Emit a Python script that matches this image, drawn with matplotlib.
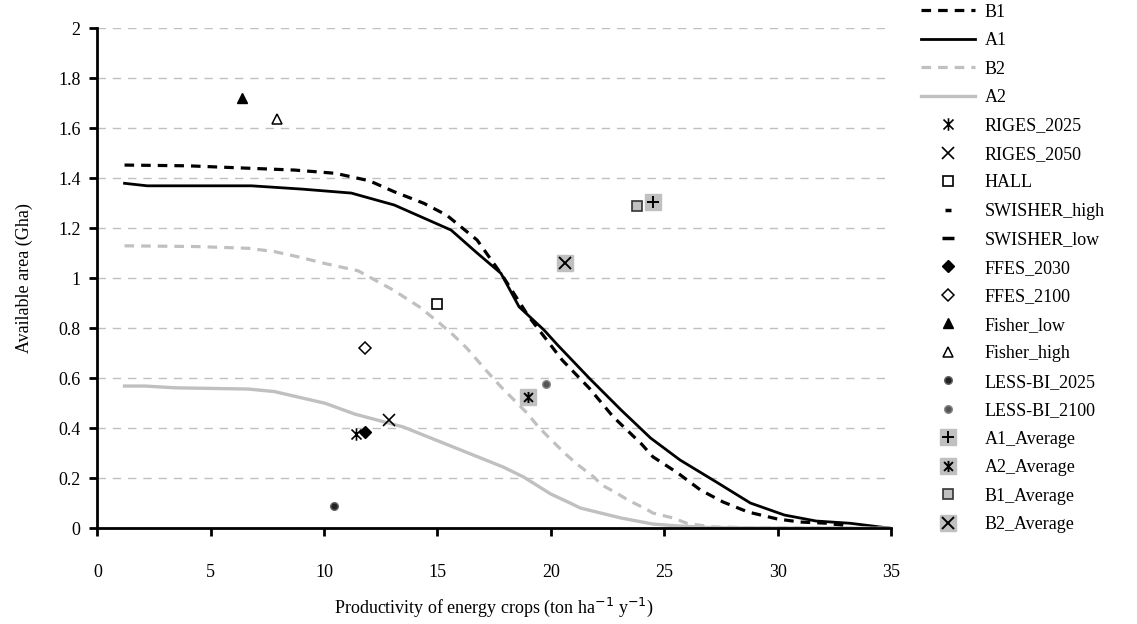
import matplotlib
matplotlib.use("Agg")
import matplotlib.pyplot as plt
from matplotlib.lines import Line2D
from matplotlib.path import Path

plt.rcParams["font.family"] = ["Liberation Serif", "DejaVu Serif"]

# scenario curves (productivity ton/ha/y vs available area Gha)
b1_x = [1.2, 4.0, 8.7, 10.5, 12.0, 13.1, 14.4, 15.4, 16.75, 17.9, 19.0, 20.5, 21.7,
        22.75, 24.0, 24.5, 25.6, 26.6, 27.6, 28.7, 30.0, 31.0, 32.2, 33.0]
b1_y = [1.453, 1.45, 1.433, 1.42, 1.39, 1.346, 1.30, 1.253, 1.153, 1.006, 0.85, 0.673, 0.56,
        0.446, 0.337, 0.286, 0.221, 0.153, 0.105, 0.065, 0.037, 0.025, 0.02, 0.01]

a1_x = [1.2, 2.2, 6.8, 9.0, 11.2, 13.1, 15.6, 16.7, 17.8, 18.6, 19.7, 20.3, 21.7,
        23.1, 24.4, 25.7, 27.3, 28.8, 30.3, 31.7, 33.2, 35.0]
a1_y = [1.38, 1.37, 1.37, 1.357, 1.341, 1.293, 1.193, 1.105, 1.02, 0.886, 0.793, 0.733, 0.60,
        0.473, 0.361, 0.273, 0.185, 0.101, 0.053, 0.029, 0.02, 0.0]

b2_x = [1.2, 4.4, 6.65, 7.8, 8.85, 10.0, 11.5, 13.05, 14.2, 15.1, 15.7, 16.3, 17.2, 17.8,
        18.95, 19.45, 20.1, 20.7, 21.15, 21.9, 22.25, 22.9, 23.4, 24.2, 24.5, 25.4,
        26.0, 27.0, 29.0, 35.0]
b2_y = [1.13, 1.127, 1.12, 1.107, 1.086, 1.06, 1.03, 0.953, 0.886, 0.82, 0.773, 0.72, 0.626,
        0.566, 0.461, 0.406, 0.346, 0.293, 0.257, 0.205, 0.173, 0.141, 0.113, 0.077, 0.061,
        0.041, 0.02, 0.006, 0.002, 0.0]

a2_x = [1.2, 2.1, 3.4, 6.65, 7.8, 10.05, 11.35, 13.5, 15.7, 17.9, 18.8, 20.0, 20.85,
        21.3, 23.1, 24.5, 25.5, 27.0, 30.0, 35.0]
a2_y = [0.569, 0.569, 0.562, 0.557, 0.547, 0.50, 0.457, 0.405, 0.325, 0.245, 0.205, 0.137,
        0.101, 0.081, 0.041, 0.017, 0.01, 0.003, 0.001, 0.0]

# literature estimates
riges_2025 = (11.4, 0.376)
riges_2050 = (12.87, 0.433)
hall = (14.97, 0.897)
ffes_2030 = (11.8, 0.386)
ffes_2100 = (11.8, 0.722)
fisher_low = (6.37, 1.722)
fisher_high = (7.94, 1.636)
less_bi_2025 = (10.45, 0.089)
less_bi_2100 = (19.8, 0.577)
a1_avg = (24.5, 1.307)
a2_avg = (19.0, 0.526)
b1_avg = (23.8, 1.289)
b2_avg = (20.63, 1.062)

GRAY = "#c0c0c0"

# excel style asterisk: vertical bar plus a cross
star = Path([(0, -1), (0, 1), (-0.8, -0.8), (0.8, 0.8), (-0.8, 0.8), (0.8, -0.8)],
            [Path.MOVETO, Path.LINETO, Path.MOVETO, Path.LINETO, Path.MOVETO, Path.LINETO])

fig = plt.figure(figsize=(11.37, 6.24), dpi=100)
ax = fig.add_axes([0.0856, 0.1534, 0.698, 0.8012])

h_b1, = ax.plot(b1_x, b1_y, color="black", lw=2.3, ls=(0, (3.0, 2.2)))
h_a1, = ax.plot(a1_x, a1_y, color="black", lw=2.0)
h_b2, = ax.plot(b2_x, b2_y, color=GRAY, lw=2.3, ls=(0, (3.0, 2.2)))
h_a2, = ax.plot(a2_x, a2_y, color=GRAY, lw=2.4)

def pt(p, **kw):
    h, = ax.plot([p[0]], [p[1]], ls="none", **kw)
    return h

h_r25 = pt(riges_2025, marker=star, ms=9, mec="black", mew=1.2)
h_r50 = pt(riges_2050, marker="x", ms=8, mec="black", mew=1.2)
h_hall = pt(hall, marker="s", ms=6.5, mfc="white", mec="black", mew=1.2)
h_f30 = pt(ffes_2030, marker="D", ms=6, mfc="black", mec="black")
h_f00 = pt(ffes_2100, marker="D", ms=6, mfc="white", mec="black", mew=1.1)
h_fl = pt(fisher_low, marker="^", ms=7.5, mfc="black", mec="black")
h_fh = pt(fisher_high, marker="^", ms=7.5, mfc="white", mec="black", mew=1.1)
h_l25 = pt(less_bi_2025, marker="o", ms=5.5, mfc="#222222", mec="#666666")
h_l00 = pt(less_bi_2100, marker="o", ms=5.5, mfc="#555555", mec="#888888")

bg_a1 = pt(a1_avg, marker="s", ms=11, mfc=GRAY, mec=GRAY)
fg_a1 = pt(a1_avg, marker="+", ms=9, mec="black", mew=1.4)
bg_a2 = pt(a2_avg, marker="s", ms=11, mfc=GRAY, mec=GRAY)
fg_a2 = pt(a2_avg, marker=star, ms=8, mec="black", mew=1.4)
h_b1a = pt(b1_avg, marker="s", ms=7, mfc=GRAY, mec="#333333", mew=1.2)
bg_b2 = pt(b2_avg, marker="s", ms=11, mfc=GRAY, mec=GRAY)
fg_b2 = pt(b2_avg, marker="x", ms=8, mec="black", mew=1.4)

# swisher markers (legend only)
h_sh = Line2D([], [], ls="none", marker="_", ms=5, mec="black", mew=2.5)
h_sl = Line2D([], [], ls="none", marker="_", ms=8, mec="black", mew=2.5)

ax.set_xlim(0, 35)
ax.set_ylim(0, 2)
ax.set_xticks(range(0, 36, 5))
ax.set_yticks([i * 0.2 for i in range(11)])
ax.set_yticklabels([f"{i * 0.2:.1f}".rstrip("0").rstrip(".") if i % 5 else str(i // 5)
                    for i in range(11)])
ax.yaxis.grid(True, color=GRAY, ls=(0, (6, 5)), lw=1.0)
ax.set_axisbelow(True)
for s in ["top", "right"]:
    ax.spines[s].set_visible(False)
ax.spines["left"].set_linewidth(2.0)
ax.spines["bottom"].set_linewidth(2.0)
ax.tick_params(axis="x", direction="out", length=6, width=2, pad=20, labelsize=13)
ax.tick_params(axis="y", direction="out", length=6, width=2, pad=6, labelsize=13)

fig.text(0.4345, 0.027, "Productivity of energy crops (ton ha$^{-1}$ y$^{-1}$)",
         fontsize=13, ha="center", va="center")
ax.set_ylabel("Available area (Gha)", fontsize=13, labelpad=18)

handles = [h_b1, h_a1, h_b2, h_a2, h_r25, h_r50, h_hall, h_sh, h_sl, h_f30, h_f00,
           h_fl, h_fh, h_l25, h_l00, (bg_a1, fg_a1), (bg_a2, fg_a2), h_b1a, (bg_b2, fg_b2)]
labels = ["B1", "A1", "B2", "A2", "RIGES_2025", "RIGES_2050", "HALL", "SWISHER_high",
          "SWISHER_low", "FFES_2030", "FFES_2100", "Fisher_low", "Fisher_high",
          "LESS-BI_2025", "LESS-BI_2100", "A1_Average", "A2_Average", "B1_Average",
          "B2_Average"]
fig.legend(handles, labels, loc="upper left", bbox_to_anchor=(0.807, 1.0),
           bbox_transform=fig.transFigure, frameon=False, fontsize=13,
           handlelength=3.0, handletextpad=0.5, labelspacing=0.635, borderpad=0.0,
           borderaxespad=0.2)

fig.savefig("out.png", dpi=100)
